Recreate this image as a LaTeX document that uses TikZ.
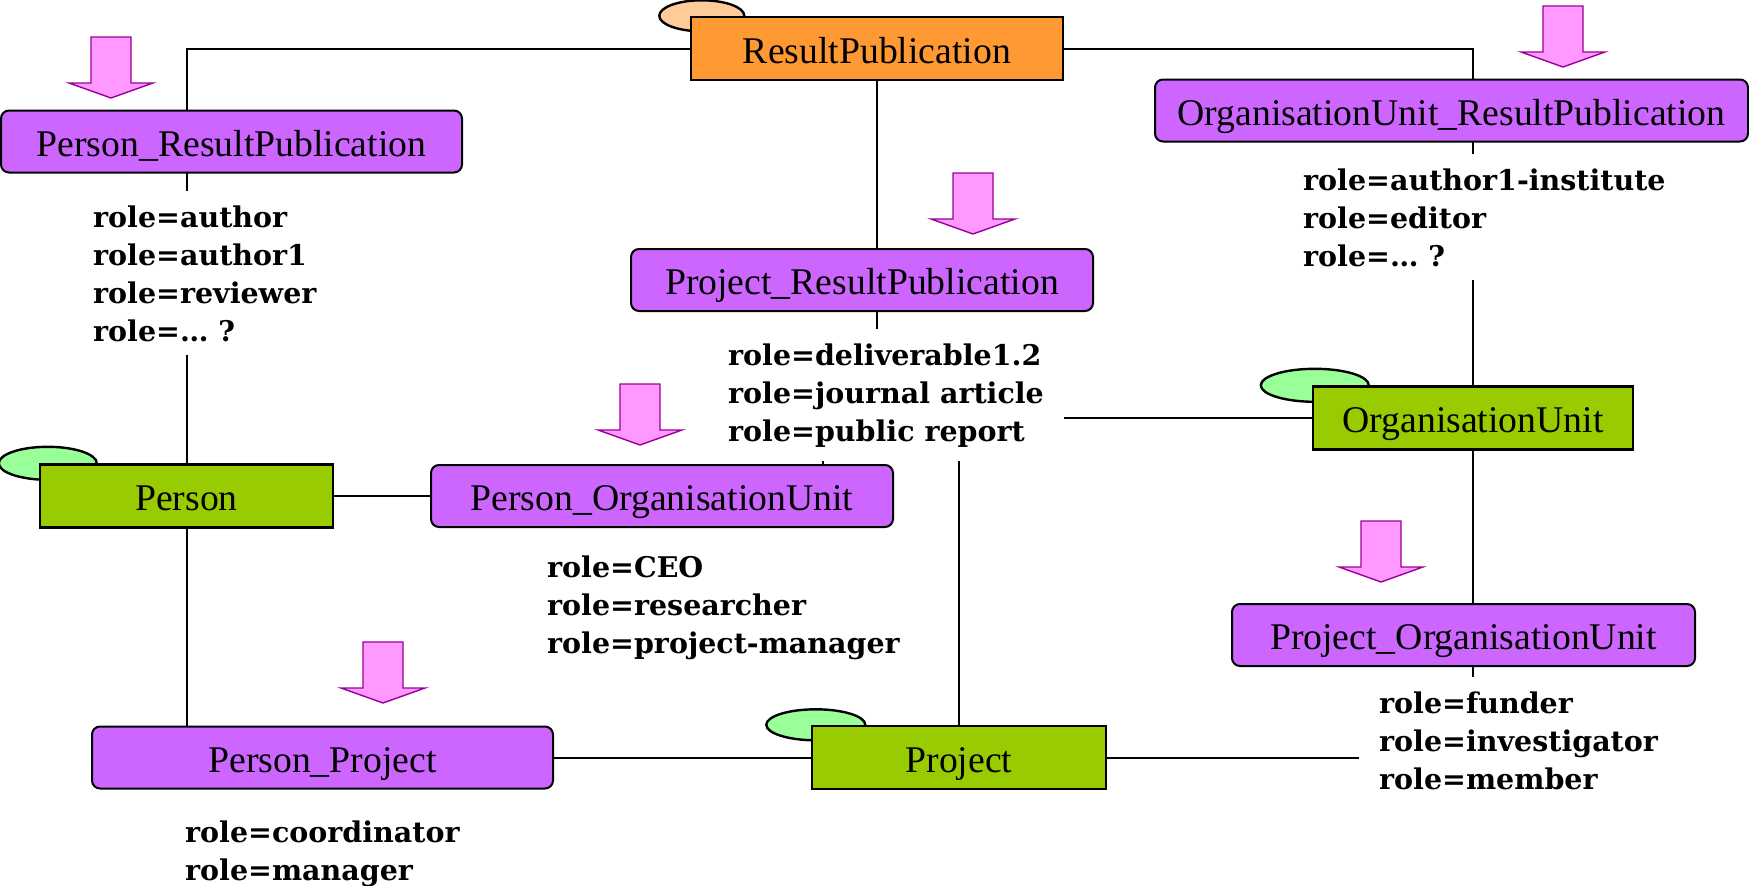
\documentclass[tikz,border=0pt]{standalone}
\usepackage{fontspec}
\setmainfont{Liberation Serif}
\newfontfamily\rolefont{DejaVu Serif}
\usetikzlibrary{backgrounds,shapes.geometric}
\definecolor{entgreen}{HTML}{99CC00}
\definecolor{taggreen}{HTML}{99FF99}
\definecolor{puborange}{HTML}{FF9933}
\definecolor{tagorange}{HTML}{FFCC99}
\definecolor{relviolet}{HTML}{CC66FF}
\definecolor{hintpink}{HTML}{FF99FF}
\definecolor{hintpurple}{HTML}{990099}

\begin{document}
\begin{tikzpicture}[x=1pt, y=-1pt,
  ent/.style={draw, line width=2.4pt, fill=#1, minimum height=63pt, inner sep=0pt,
    font=\fontsize{37.7}{44}\selectfont, text height=36pt, text depth=7pt},
  ent/.default=entgreen,
  rel/.style={draw, line width=2pt, fill=relviolet, rounded corners=8pt, minimum height=62pt,
    inner sep=0pt, font=\fontsize{37.7}{44}\selectfont, text height=36pt, text depth=7pt},
  tag/.style={draw, ellipse, line width=2.4pt, fill=#1, inner sep=0pt},
  tag/.default=taggreen,
  roles/.style={fill=white, align=left, anchor=base west, inner xsep=20pt, inner ysep=14pt,
    font=\rolefont\bfseries\fontsize{28.5}{38}\selectfont},
  link/.style={line width=2pt},
  hint/.pic={\draw[fill=hintpink, draw=hintpurple, line width=1.4pt]
    (-20,0) -- (20,0) -- (20,46) -- (42,46) -- (0,61) -- (-42,46) -- (-20,46) -- cycle;}]
\useasboundingbox (0,0) rectangle (1749,886);

% entities
\node[ent=puborange, minimum width=372pt] (rp) at (877,48.5) {ResultPublication};
\node[ent, minimum width=293pt] (person) at (186.5,496) {Person};
\node[ent, minimum width=294pt] (proj) at (959,757.5) {Project};
\node[ent, minimum width=320pt] (ou) at (1473,418) {OrganisationUnit};

% link tables
\node[rel, minimum width=461pt] (prp) at (231.5,141.5) {Person\_ResultPublication};
\node[rel, minimum width=593pt] (ourp) at (1451.5,110.5) {OrganisationUnit\_ResultPublication};
\node[rel, minimum width=462pt] (pjrp) at (862,280) {Project\_ResultPublication};
\node[rel, minimum width=462pt] (pou) at (662,496) {Person\_OrganisationUnit};
\node[rel, minimum width=463pt] (pjou) at (1463.5,635) {Project\_OrganisationUnit};
\node[rel, minimum width=461pt] (pp) at (322.5,757.5) {Person\_Project};

\begin{pgfonlayer}{background}
\draw[link] (rp.west) -| (person.north);
\draw[link] (rp.east) -| (ou.north);
\draw[link] (rp.south) -- ++(0,320) -| (proj.north);
\draw[link] (person) -- (pou);
\draw[link] ([xshift=161pt]pou.north) |- (ou.west);
\draw[link] (ou.south) |- (proj.east);
\draw[link] (person.south) -- (person.south |- pp.north);
\draw[link] (pp.east) -- (proj.west);
% tags behind the entities
\node[tag=tagorange, minimum width=85pt, minimum height=31pt] (rp-tag) at ([xshift=12pt]rp.north west) {};
\node[tag, minimum width=98pt, minimum height=33pt] (person-tag) at ([xshift=9pt]person.north west) {};
\node[tag, minimum width=99pt, minimum height=31pt] (proj-tag) at ([xshift=5pt]proj.north west) {};
\node[tag, minimum width=108pt, minimum height=33pt] (ou-tag) at ([xshift=3pt]ou.north west) {};
\end{pgfonlayer}

% role values (anchored at the last baseline)
\node[roles] (prp-roles) at (73,341) {role=author\\role=author1\\role=reviewer\\role=… ?};
\node[roles] (ourp-roles) at (1283,266) {role=author1-institute\\role=editor\\role=… ?};
\node[roles] (pjrp-roles) at (708,441) {role=deliverable1.2\\role=journal article\\role=public report};
\node[roles] (pou-roles) at (527,653) {role=CEO\\role=researcher\\role=project-manager};
\node[roles] (pjou-roles) at (1359,789) {role=funder\\role=investigator\\role=member};
\node[roles] (pp-roles) at (165,880) {role=coordinator\\role=manager};

% down arrows
\pic (prp-hint) at (111,37) {hint};
\pic (pjrp-hint) at (973,173) {hint};
\pic (ourp-hint) at (1563,6) {hint};
\pic (pou-hint) at (640,384) {hint};
\pic (pjou-hint) at (1381,521) {hint};
\pic (pp-hint) at (383,642) {hint};
\end{tikzpicture}
\end{document}
